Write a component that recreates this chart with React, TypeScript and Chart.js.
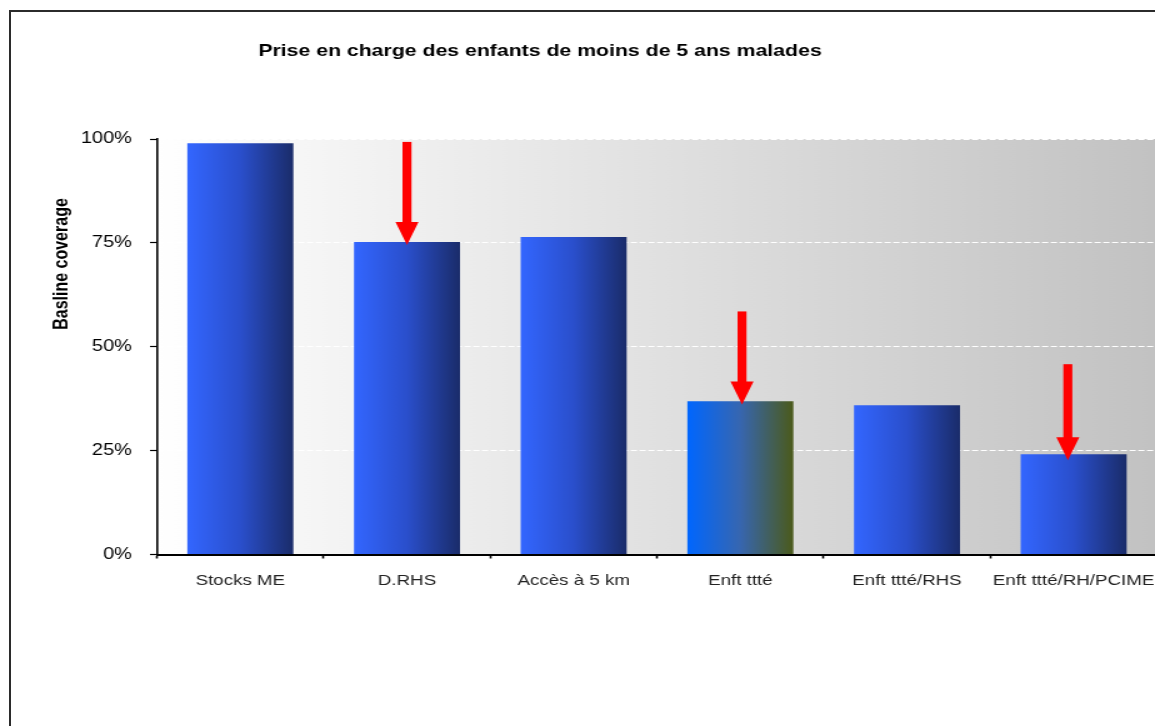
import React, { useEffect, useRef } from "react";
import { Chart, registerables } from "chart.js";

Chart.register(...registerables);

// ---------- data ----------
const categories = ["Stocks ME", "D.RHS", "Accès à 5 km", "Enft ttté", "Enft ttté/RHS", "Enft ttté/RH/PCIME"];
const coverage = [99.0, 75.2, 76.4, 36.9, 35.9, 24.1];
const yTicks = [0, 25, 50, 75, 100];
// arrows: x position (category units), start value, tip value
const arrowAt = [1, 3.01, 4.965];
const arrowFrom = [99.3, 58.5, 45.8];
const arrowTo = [74.5, 36.1, 22.7];
const titleText = "Prise en charge des enfants de moins de 5 ans malades";
const yTitleText = "Basline coverage";

// ---------- styles / layout ----------
const SX = 1.25; // horizontal stretch of the original picture
const CW = 976;
const CH = 726;
const FONT = "'Liberation Sans', Arial, Helvetica, sans-serif";
const BAR_PCT = 0.636;
const HIGHLIGHT = 3;
const normalStops: [number, string][] = [
  [0, "#3366ff"],
  [0.5, "#2a4fcc"],
  [1, "#1a2c6a"],
];
const highlightStops: [number, string][] = [
  [0, "#0066ff"],
  [0.5, "#3766b0"],
  [1, "#4b5a1a"],
];

function barFill(c: any) {
  const chart = c.chart;
  const a = chart.chartArea;
  if (!a || !chart.scales.x) return "#3366ff";
  const xs = chart.scales.x;
  const cx = xs.getPixelForValue(c.dataIndex);
  const w = (xs.width / categories.length) * BAR_PCT;
  const g = chart.ctx.createLinearGradient(cx - w / 2, 0, cx + w / 2, 0);
  const stops = c.dataIndex === HIGHLIGHT ? highlightStops : normalStops;
  stops.forEach(([o, col]) => g.addColorStop(o, col));
  return g;
}

const bgPlugin = {
  id: "plotBg",
  beforeDraw(chart: any) {
    const { ctx, chartArea: a } = chart;
    if (!a) return;
    const g = ctx.createLinearGradient(a.left, 0, a.right, 0);
    g.addColorStop(0, "#ffffff");
    g.addColorStop(1, "#c2c2c2");
    ctx.save();
    ctx.fillStyle = g;
    ctx.fillRect(a.left, a.top, a.right - a.left, a.bottom - a.top);
    ctx.restore();
  },
};

const arrowPlugin = {
  id: "arrows",
  afterDatasetsDraw(chart: any) {
    const { ctx } = chart;
    const xs = chart.scales.x;
    const ys = chart.scales.y;
    const shaftW = 9 / SX;
    const headW = 23 / SX;
    const headH = 23;
    ctx.save();
    ctx.fillStyle = "#ff0000";
    for (let i = 0; i < arrowAt.length; i++) {
      const x = xs.getPixelForValue(arrowAt[i]);
      const y0 = ys.getPixelForValue(arrowFrom[i]);
      const y1 = ys.getPixelForValue(arrowTo[i]);
      ctx.fillRect(x - shaftW / 2, y0, shaftW, y1 - headH - y0 + 1);
      ctx.beginPath();
      ctx.moveTo(x - headW / 2, y1 - headH);
      ctx.lineTo(x + headW / 2, y1 - headH);
      ctx.lineTo(x, y1);
      ctx.closePath();
      ctx.fill();
    }
    ctx.restore();
  },
};

const textPlugin = {
  id: "texts",
  afterDraw(chart: any) {
    const { ctx, chartArea: a } = chart;
    ctx.save();
    ctx.fillStyle = "#000000";
    ctx.font = `bold 17px ${FONT}`;
    ctx.textAlign = "center";
    ctx.textBaseline = "alphabetic";
    ctx.fillText(titleText, 540 / SX, 56);
    ctx.restore();

    ctx.save();
    ctx.fillStyle = "#000000";
    ctx.font = `bold 16px ${FONT}`;
    ctx.translate(62 / SX, a.top + 125);
    ctx.rotate(-Math.PI / 2);
    ctx.textAlign = "center";
    ctx.textBaseline = "middle";
    ctx.fillText(yTitleText, 0, 0);
    ctx.restore();
  },
};

export default function App() {
  const ref = useRef<HTMLCanvasElement>(null);

  useEffect(() => {
    if (!ref.current) return;
    const chart = new Chart(ref.current, {
      type: "bar",
      data: {
        labels: categories,
        datasets: [
          {
            data: coverage,
            backgroundColor: barFill,
            borderWidth: 0,
            barPercentage: BAR_PCT,
            categoryPercentage: 1,
          },
        ],
      },
      options: {
        responsive: false,
        animation: false,
        devicePixelRatio: 1,
        layout: {
          padding: { left: 0, right: CW - 1157 / SX, top: 139, bottom: CH - 554.5 - 40 },
        },
        plugins: {
          legend: { display: false },
          tooltip: { enabled: false },
          title: { display: false },
        },
        scales: {
          x: {
            offset: true,
            grid: {
              display: true,
              drawOnChartArea: false,
              offset: true,
              tickLength: 4,
              tickColor: "#000",
              tickWidth: 1.6,
              color: "#000",
            },
            border: { display: true, color: "#000", width: 2 },
            ticks: {
              font: { family: FONT, size: 15 },
              color: "#222222",
              padding: 13,
              maxRotation: 0,
              autoSkip: false,
            },
            afterFit: (s: any) => {
              s.height = 40;
            },
          },
          y: {
            min: 0,
            max: 100,
            afterBuildTicks: (s: any) => {
              s.ticks = yTicks.map((v) => ({ value: v }));
            },
            grid: {
              color: (c: any) => (c.tick && c.tick.value === 0 ? "rgba(0,0,0,0)" : "#ffffff"),
              lineWidth: 1,
              tickLength: 5.6,
              tickColor: "#000",
              tickWidth: 1.2,
              tickBorderDash: [],
            },
            border: { display: true, color: "#000", width: 1.6, dash: [5, 2] },
            ticks: {
              callback: (v: any) => v + "%",
              font: { family: FONT, size: 16 },
              color: "#000000",
              padding: 14.4,
            },
            afterFit: (s: any) => {
              s.width = 157 / SX;
            },
          },
        },
      },
      plugins: [bgPlugin, arrowPlugin, textPlugin],
    } as any);
    return () => chart.destroy();
  }, []);

  return (
    <div
      style={{
        position: "fixed",
        left: 0,
        top: 0,
        width: 1155,
        height: 726,
        overflow: "hidden",
        background: "#ffffff",
      }}
    >
      <canvas
        ref={ref}
        width={CW}
        height={CH}
        style={{
          position: "absolute",
          left: 0,
          top: 0,
          width: CW,
          height: CH,
          transform: `scaleX(${SX})`,
          transformOrigin: "0 0",
        }}
      />
      <div
        style={{
          position: "absolute",
          left: 9,
          top: 10,
          width: 3000,
          height: 3000,
          borderTop: "2px solid #2b2b2b",
          borderLeft: "2px solid #2b2b2b",
          pointerEvents: "none",
        }}
      />
    </div>
  );
}
